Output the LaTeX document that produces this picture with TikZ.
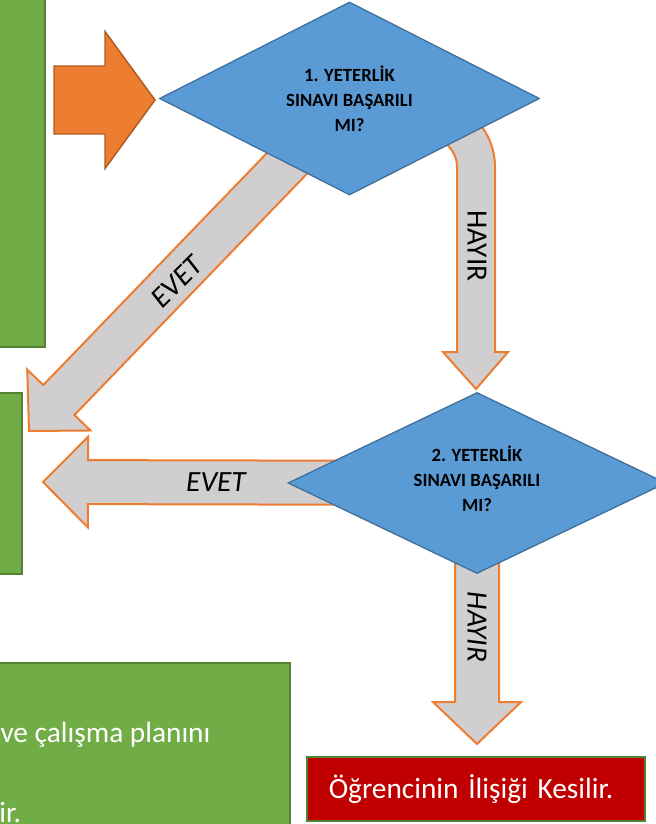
\documentclass[tikz,border=0pt]{standalone}
\usepackage{fontspec}
\setmainfont{Carlito}
\usetikzlibrary{shapes.geometric,calc}

\definecolor{yesil}{HTML}{70AD47}
\definecolor{yesilkenar}{HTML}{548235}
\definecolor{mavi}{HTML}{5B9BD5}
\definecolor{mavikenar}{HTML}{41719C}
\definecolor{turuncu}{HTML}{ED7D31}
\definecolor{turuncukenar}{HTML}{AE5A21}
\definecolor{gri}{HTML}{D0CECE}
\definecolor{koyukirmizi}{HTML}{C00000}

\tikzset{every picture/.style={line width=0.75pt}}
\tikzset{
  yesilkutu/.style={fill=yesil, draw=yesilkenar, line width=1.2pt},
  karar/.style={diamond, fill=mavi, draw=mavikenar, line width=1pt, inner sep=0pt},
  kararyazi/.style={align=center, inner sep=0pt, font=\bfseries\fontsize{14}{18.75}\selectfont},
  okgri/.style={fill=gri, draw=turuncu, line width=1.5pt},
  okturuncu/.style={fill=turuncu, draw=turuncukenar, line width=1.1pt},
  etiket/.style={inner sep=0pt, font=\fontsize{22}{26}\selectfont},
  egik/.style={etiket, font=\itshape\fontsize{22}{26}\selectfont},
  sonkutu/.style={fill=koyukirmizi, draw=yesilkenar, line width=1.2pt, text=white,
    anchor=north west, minimum height=48pt, inner xsep=16.5pt, text width=220.5pt,
    align=left, font=\fontsize{22}{26}\selectfont}
}

% block arrow: [style]{start}{tip}{half shaft}{half head}{head length}
\newcommand{\blokok}[6][]{%
  \coordinate (bo-h) at ($(#3)!#6!(#2)$);
  \draw[#1] ($(#2)!#4!90:(#3)$) -- ($(bo-h)!#4!90:(#3)$) -- ($(bo-h)!#5!90:(#3)$) -- (#3)
    -- ($(bo-h)!#5!-90:(#3)$) -- ($(bo-h)!#4!-90:(#3)$) -- ($(#2)!#4!-90:(#3)$) -- cycle;
}

\begin{document}
\begin{tikzpicture}[x=0.75pt,y=0.75pt,yscale=-1,xscale=1]
\useasboundingbox (0,0) rectangle (656,824);

%Shape: green boxes (cut by the page edge)
\draw[yesilkutu] (-10,-10) rectangle (45,347);
\draw[yesilkutu] (-10,393) rectangle (22,574);
\draw[yesilkutu] (-10,663) rectangle (290,840);

% centres of the two decision shapes
\coordinate (m1) at (349.5,98.5);
\coordinate (m2) at (477,483);

%Block arrows
\coordinate (o1s) at (54,100);
\coordinate (o1t) at (155,100);
\blokok[okturuncu]{o1s}{o1t}{25.5pt}{51.4pt}{37.5pt}

\coordinate (e1t) at (29,431);
\blokok[okgri]{m1}{e1t}{16.2pt}{32.9pt}{32.25pt}

\coordinate (e2t) at (43,482);
\blokok[okgri]{m2}{e2t}{16.5pt}{34pt}{33.75pt}

\coordinate (h2t) at (477,744);
\blokok[okgri]{m2}{h2t}{16.5pt}{33pt}{31.5pt}

%Bent arrow (HAYIR)
\draw[okgri] (400,99) -- (427,99) arc[start angle=-90,end angle=0,radius=68]
  -- (495,352) -- (508,352) -- (476,389) -- (443,352) -- (457,352) -- (457,167)
  arc[start angle=0,end angle=-90,radius=30] -- (400,137) -- cycle;

%Decisions
\node[karar, minimum width=285pt, minimum height=144.75pt] (d1) at (m1) {};
\node[kararyazi] (d1yazi) at (d1.center) {1. YETERLİK\\SINAVI BAŞARILI\\MI?};
\node[karar, minimum width=283.5pt, minimum height=135.75pt] (d2) at (m2) {};
\node[kararyazi] (d2yazi) at ([yshift=-3pt]d2.center) {2. YETERLİK\\SINAVI BAŞARILI\\MI?};

% Text Node
\node[egik, rotate=45] (evet1) at (177,282) {EVET};
\node[etiket, rotate=-90] (hayir1) at (477,246) {HAYIR};
\node[egik] (evet2) at (216,482) {EVET};
\node[egik, rotate=-90] (hayir2) at (477,627) {HAYIR};

%End box
\node[sonkutu] (kes) at (306,756) {Öğrencinin İlişiği Kesilir.};

% Text Node (left part cut)
\node[etiket, text=white, anchor=base west] (plan) at (0,742) {ve çalışma planını};
\node[etiket, text=white, anchor=base west] (plan2) at (-1,822) {ir.};

\end{tikzpicture}
\end{document}
